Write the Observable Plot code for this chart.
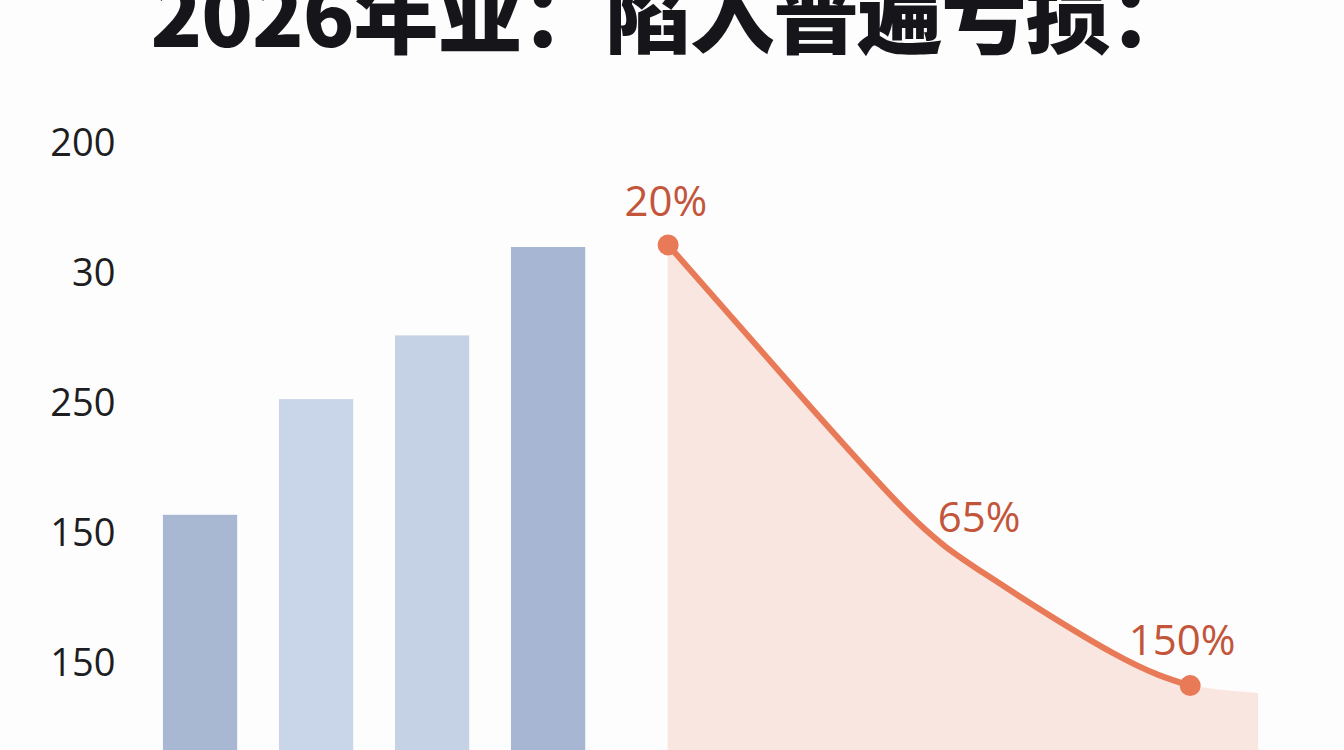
<!DOCTYPE html>
<html>
<head>
<meta charset="utf-8">
<script src="https://cdn.jsdelivr.net/npm/d3@7"></script>
<script src="https://cdn.jsdelivr.net/npm/@observablehq/plot@0.6"></script>
<style>
  html, body { margin: 0; padding: 0; background: #fdfdfd; overflow: hidden; }
  #title { position: relative; height: 60px; overflow: hidden; width: 1344px; }
  #title div {
    position: absolute; left: 0; right: 0; top: -33px;
    text-align: center; font-family: "Noto Sans CJK SC", sans-serif;
    font-weight: 900; font-size: 85px; line-height: 85px; color: #16161a;
    letter-spacing: -1px; white-space: nowrap;
  }
  #chart svg { display: block; }
</style>
</head>
<body>
<div id="title"><div id="titleText"></div></div>
<div id="chart"></div>
<script>
// --- data ---
const titleText = "2026年业：陷入普遍亏损：";
const tickValues = [200, 150, 100, 50, 0];
const tickLabels = ["200", "30", "250", "150", "150"];

const barIndex = [1, 2, 3, 4];
const barValues = [57, 101.5, 126, 160];
const barColors = ["#a8b7d2", "#c9d6e9", "#c5d1e4", "#a7b6d2"];

const curveX = [5.03, 6.17, 7.10, 7.78, 8.87, 9.53];
const curveY = [161.0, 103.1, 57.7, 33.9, 3.9, -8.5];
const areaTailX = [10.12];
const areaTailY = [-11.5];

const labelText = ["20%", "65%", "150%"];
const labelX = [5.01, 7.71, 9.46];
const labelY = [177.3, 55.8, 8.5];

// --- tables ---
document.getElementById("titleText").textContent = titleText;
const bars = barIndex.map((x, i) => ({x1: x - 0.32, x2: x + 0.32, y: barValues[i], color: barColors[i]}));
const curve = curveX.map((x, i) => ({x, y: curveY[i]}));
const area = curve.concat(areaTailX.map((x, i) => ({x, y: areaTailY[i]})));
const ends = [curve[0], curve[curve.length - 1]];
const labels = labelText.map((t, i) => ({t, x: labelX[i], y: labelY[i]}));
const labelMap = new Map(tickValues.map((v, i) => [v, tickLabels[i]]));

const yMin = -33.46, yMax = 231.92, floorY = -60;

const chart = Plot.plot({
  width: 1344,
  height: 690,
  marginLeft: 120,
  marginRight: 0,
  marginTop: 0,
  marginBottom: 0,
  style: {background: "transparent"},
  x: {domain: [0.31, 10.86], axis: null},
  y: {domain: [yMin, yMax]},
  marks: [
    Plot.rectY(bars, {x1: "x1", x2: "x2", y1: floorY, y2: "y", fill: "color", clip: true}),
    Plot.areaY(area, {x: "x", y1: floorY, y2: "y", fill: "#fae6e1", curve: "natural", clip: true}),
    Plot.line(curve, {x: "x", y: "y", stroke: "#e97a57", strokeWidth: 6, curve: "natural", strokeLinecap: "round"}),
    Plot.dot(ends, {x: "x", y: "y", r: 10.5, fill: "#e97a57"}),
    Plot.text(labels, {x: "x", y: "y", text: "t", fill: "#c3553b", fontSize: 42, fontFamily: "Open Sans"}),
    Plot.axisY({ticks: tickValues, tickFormat: d => labelMap.get(d), tickSize: 0, tickPadding: 5,
      fontSize: 38, fontFamily: "Open Sans", fill: "#1e1e22", label: null})
  ]
});
document.getElementById("chart").appendChild(chart);
</script>
</body>
</html>
